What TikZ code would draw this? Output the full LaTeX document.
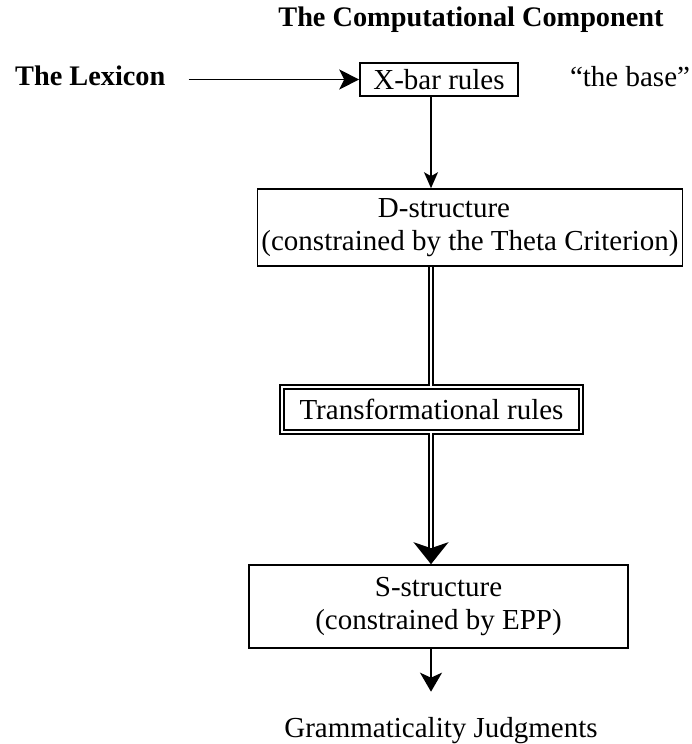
\documentclass[tikz,border=0pt]{standalone}
\usepackage{fontspec}
\setmainfont{Liberation Serif}
\usetikzlibrary{arrows.meta}
\newcommand{\diagfont}{\fontsize{29}{33.5}\selectfont}
\tikzstyle{lbl}=[inner sep=0, font=\fontsize{28.3}{33.5}\selectfont\bfseries]
\tikzstyle{plain}=[inner sep=0, font=\diagfont]
\tikzstyle{rulebox}=[rectangle, draw, line width=1.6pt, inner sep=0, align=center, font=\diagfont]
\tikzstyle{dblbox}=[rectangle, draw, double, double distance=2.4pt, line width=1.5pt, inner sep=0, font=\diagfont]
\tikzstyle{arrow} = [line width=1.6pt,-{Stealth[length=16pt,width=14pt,inset=4pt]}]
\tikzstyle{dblline} = [line width=1.5pt, double, double distance=2.4pt]
\begin{document}
\begin{tikzpicture}[x=1pt,y=-1pt]
\useasboundingbox (0,0) rectangle (691,744);

\node[lbl, anchor=base] (title) at (471,27) {The Computational Component};
\node[lbl, anchor=base west] (lex) at (15,85) {The Lexicon};
\node[rulebox, minimum width=158pt, minimum height=33pt] (xbar) at (439,79.5) {X-bar rules};
\node[plain, anchor=base] (base) at (630,86) {“the base”};

\node[rulebox, minimum width=425pt, minimum height=77pt] (dstr) at (470,227.5)
	{D-structure\kern52pt\\(constrained by the Theta Criterion)};
\node[dblbox, minimum width=299pt, minimum height=45pt] (trans) at (431.5,409.5) {Transformational rules};
\node[rulebox, minimum width=379pt, minimum height=83pt] (sstr) at (438.5,606.5)
	{S-structure\\(constrained by EPP)};
\node[plain, anchor=base] (gram) at (441,737) {Grammaticality Judgments};

% the main column
\coordinate (col) at (431,0);

\draw[arrow,-{Stealth[length=20pt,width=20pt,inset=5pt]},shorten <=23pt] (lex.east |- xbar) -- (xbar);
\draw[arrow] (xbar.south -| col) -- (dstr.north -| col);
\draw[dblline] (dstr.south -| col) -- (trans.north -| col);
\draw[dblline,-{Stealth[length=22pt,width=35pt,inset=6pt]}] (trans.south -| col) -- (sstr.north -| col);
\draw[arrow,-{Stealth[length=19pt,width=22pt,inset=5pt]},shorten >=25pt] (sstr.south -| col) -- (gram.north -| col);
\end{tikzpicture}
\end{document}
